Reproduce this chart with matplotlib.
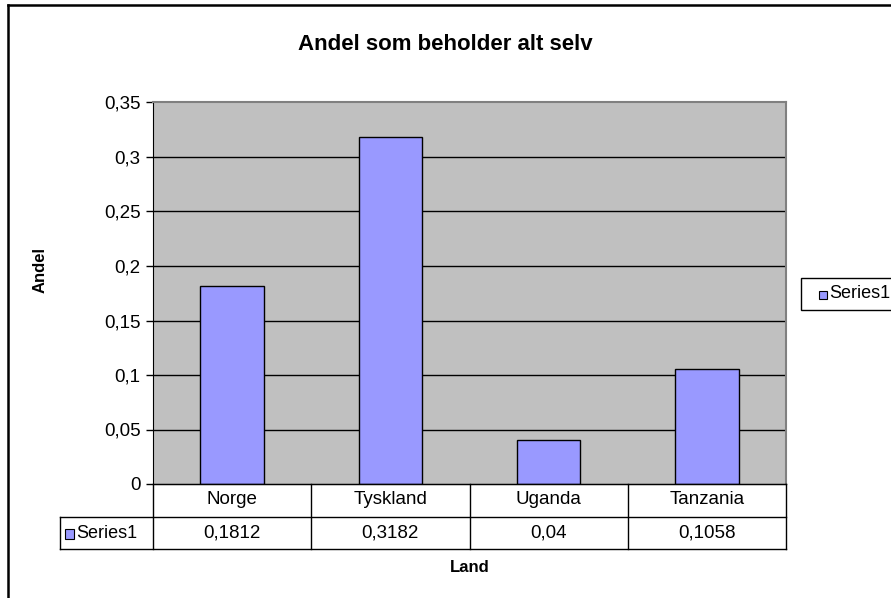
import matplotlib
matplotlib.use("Agg")
import matplotlib.pyplot as plt
from matplotlib.patches import Rectangle
from matplotlib.lines import Line2D
import matplotlib.transforms as mtransforms

categories = ["Norge", "Tyskland", "Uganda", "Tanzania"]
values = [0.1812, 0.3182, 0.04, 0.1058]
value_labels = ["0,1812", "0,3182", "0,04", "0,1058"]
yticks = [0, 0.05, 0.1, 0.15, 0.2, 0.25, 0.3, 0.35]
ytick_labels = ["0", "0,05", "0,1", "0,15", "0,2", "0,25", "0,3", "0,35"]
series_name = "Series1"
title = "Andel som beholder alt selv"
xlabel = "Land"
ylabel = "Andel"

plt.rcParams['font.family'] = ['Liberation Sans', 'DejaVu Sans']

W, H = 891, 598
fig = plt.figure(figsize=(W / 100, H / 100), dpi=100)

def fx(px):
    return px / W

def fy(py):
    return 1 - py / H

FS = 13.5
FSL = 13

# outer frame (left and top visible)
fig.add_artist(Line2D([fx(7.5), fx(7.5)], [fy(598), fy(5)], transform=fig.transFigure, color='black', lw=1.8))
fig.add_artist(Line2D([fx(7.5), fx(891)], [fy(5), fy(5)], transform=fig.transFigure, color='black', lw=1.8))

L, R, T, B = 153, 786, 102.5, 484
ax = fig.add_axes([fx(L), fy(B), fx(R) - fx(L), fy(T) - fy(B)])
ax.set_facecolor('#C0C0C0')
x = list(range(len(categories)))
ax.bar(x, values, width=0.4, color='#9999FF', edgecolor='black', linewidth=1, zorder=3)
ax.set_xlim(-0.5, len(categories) - 0.5)
ax.set_ylim(0, 0.35)
ax.set_yticks(yticks)
ax.set_yticklabels(ytick_labels, fontsize=FS)
for t in yticks[1:-1]:
    ax.axhline(t, color='black', lw=1, zorder=1)
ax.tick_params(axis='y', direction='out', length=5, width=1, pad=4)
ax.set_xticks([])
for s in ['top', 'right']:
    ax.spines[s].set_color('#808080')
    ax.spines[s].set_linewidth(1.5)
ax.spines['left'].set_color('black')
ax.spines['bottom'].set_color('black')

# data table below
row1_top, row1_bot, row2_bot = 484, 516.5, 549
tl = 60
trans = mtransforms.blended_transform_factory(ax.transData, fig.transFigure)
lw = 1
fig.add_artist(Line2D([fx(L), fx(R)], [fy(row1_top), fy(row1_top)], transform=fig.transFigure, color='black', lw=lw))
fig.add_artist(Line2D([fx(tl), fx(R)], [fy(row1_bot), fy(row1_bot)], transform=fig.transFigure, color='black', lw=lw))
fig.add_artist(Line2D([fx(tl), fx(R)], [fy(row2_bot), fy(row2_bot)], transform=fig.transFigure, color='black', lw=lw))
fig.add_artist(Line2D([fx(tl), fx(tl)], [fy(row1_bot), fy(row2_bot)], transform=fig.transFigure, color='black', lw=lw))
for i in range(len(categories) + 1):
    xd = i - 0.5
    fig.add_artist(Line2D([xd, xd], [fy(row1_top), fy(row2_bot)], transform=trans, color='black', lw=lw, clip_on=False))
for i, (c, v) in enumerate(zip(categories, value_labels)):
    fig.text(i, fy((row1_top + row1_bot) / 2 - 1), c, transform=trans, ha='center', va='center', fontsize=FS)
    fig.text(i, fy((row1_bot + row2_bot) / 2), v, transform=trans, ha='center', va='center', fontsize=FS)
# legend key in table
fig.add_artist(Rectangle((fx(65), fy(539)), fx(9), fy(529) - fy(539), transform=fig.transFigure,
                         facecolor='#9999FF', edgecolor='black', lw=0.8))
fig.text(fx(76), fy(533), series_name, ha='left', va='center', fontsize=FSL)

# labels
fig.text(0.5, fy(45), title, ha='center', va='center', fontsize=16, fontweight='bold')
fig.text((fx(L) + fx(R)) / 2, fy(568), xlabel, ha='center', va='center', fontsize=12, fontweight='bold')
fig.text(fx(40), fy(270), ylabel, ha='center', va='center', fontsize=12, fontweight='bold', rotation=90)

# legend box
fig.add_artist(Rectangle((fx(801), fy(310)), fx(100), fy(278) - fy(310), transform=fig.transFigure,
                         facecolor='white', edgecolor='black', lw=1))
fig.add_artist(Rectangle((fx(819), fy(299)), fx(8), fy(291) - fy(299), transform=fig.transFigure,
                         facecolor='#9999FF', edgecolor='black', lw=0.8))
fig.text(fx(829), fy(294), series_name, ha='left', va='center', fontsize=FSL)

fig.savefig("out.png", dpi=100)
